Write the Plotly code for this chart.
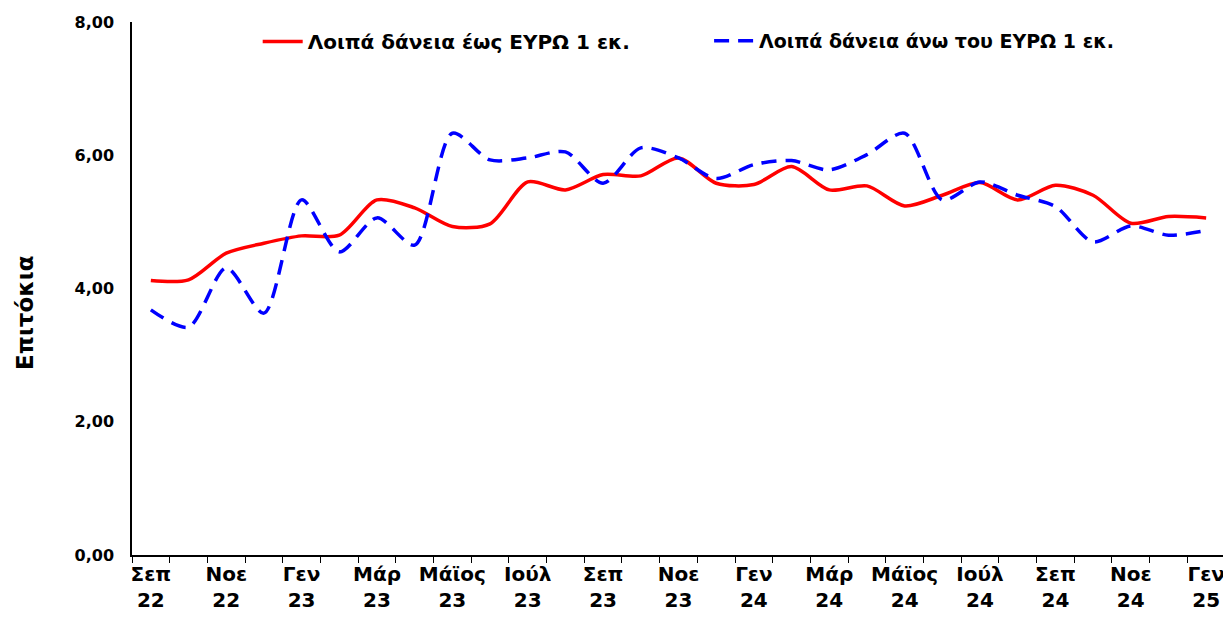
import plotly.graph_objects as go

months = ["Σεπ 22","Οκτ 22","Νοε 22","Δεκ 22","Γεν 23","Φεβ 23","Μάρ 23","Απρ 23","Μάϊος 23","Ιούν 23",
          "Ιούλ 23","Αύγ 23","Σεπ 23","Οκτ 23","Νοε 23","Δεκ 23","Γεν 24","Φεβ 24","Μάρ 24","Απρ 24",
          "Μάϊος 24","Ιούν 24","Ιούλ 24","Αύγ 24","Σεπ 24","Οκτ 24","Νοε 24","Δεκ 24","Γεν 25"]

upto_1m = [4.12, 4.13, 4.53, 4.68, 4.79, 4.80, 5.33, 5.21, 4.93, 4.97,
           5.60, 5.48, 5.71, 5.69, 5.96, 5.58, 5.56, 5.83, 5.48, 5.54,
           5.24, 5.40, 5.59, 5.33, 5.55, 5.40, 4.98, 5.08, 5.06]

over_1m = [3.68, 3.42, 4.31, 3.63, 5.33, 4.55, 5.06, 4.65, 6.33, 5.93,
           5.96, 6.05, 5.58, 6.11, 5.96, 5.65, 5.86, 5.92, 5.78, 6.01,
           6.33, 5.33, 5.60, 5.40, 5.23, 4.70, 4.94, 4.80, 4.87]

tick_labels = ["Σεπ<br>22","Νοε<br>22","Γεν<br>23","Μάρ<br>23","Μάϊος<br>23","Ιούλ<br>23","Σεπ<br>23",
               "Νοε<br>23","Γεν<br>24","Μάρ<br>24","Μάϊος<br>24","Ιούλ<br>24","Σεπ<br>24","Νοε<br>24","Γεν<br>25"]

y_ticks = [0, 2, 4, 6, 8]
y_tick_labels = ["0,00", "2,00", "4,00", "6,00", "8,00"]

name_red = "Λοιπά δάνεια έως ΕΥΡΩ 1 εκ."
name_blue = "Λοιπά δάνεια άνω του ΕΥΡΩ 1 εκ."
y_title = "Επιτόκια"

x = list(range(len(months)))

fig = go.Figure()
fig.add_trace(go.Scatter(x=x, y=upto_1m, name=name_red, mode="lines", legend="legend",
                         line=dict(color="#FF0000", width=3.5, shape="spline", smoothing=0.8),
                         text=months))
fig.add_trace(go.Scatter(x=x, y=over_1m, name=name_blue, mode="lines", legend="legend2",
                         line=dict(color="#0000FF", width=3.5, shape="spline", smoothing=0.8, dash="15px,9px"),
                         text=months))

ff = "DejaVu Sans, Verdana, sans-serif"
legend_font = dict(family=ff, size=20, color="black", weight="bold")

fig.update_layout(
    width=1223, height=613,
    margin=dict(l=124, r=6, t=14, b=66),
    paper_bgcolor="white", plot_bgcolor="white",
    font=dict(family=ff, size=16, color="black", weight="bold"),
    showlegend=True,
    legend=dict(orientation="h", x=0.115, xanchor="left", y=1.0, yanchor="top",
                font=legend_font, bgcolor="rgba(0,0,0,0)", itemwidth=40),
    legend2=dict(orientation="h", x=0.528, xanchor="left", y=1.0, yanchor="top",
                 font=dict(family=ff, size=19, color="black", weight="bold"),
                 bgcolor="rgba(0,0,0,0)", itemwidth=40),
    xaxis=dict(range=[-0.5, 28.5], tickmode="array", tickvals=x[::2], ticktext=tick_labels,
               showgrid=False, zeroline=False, showline=True, linecolor="black", linewidth=1.5,
               ticks="", tickfont=dict(family=ff, size=20, color="black", weight="bold"),
               minor=dict(tickmode="linear", tick0=-0.5, dtick=1, ticks="outside", ticklen=6,
                          tickcolor="black", tickwidth=1, showgrid=False),
               automargin=False, fixedrange=True),
    yaxis=dict(range=[0, 8], tickmode="array", tickvals=y_ticks, ticktext=y_tick_labels,
               showgrid=False, zeroline=False, showline=True, linecolor="black", linewidth=1.5,
               ticks="", ticklabelstandoff=13,
               tickfont=dict(family=ff, size=16, color="black", weight="bold"),
               automargin=False, fixedrange=True),
    annotations=[dict(text=y_title, textangle=-90, xref="paper", yref="paper",
                      x=-0.0979, y=0.454, xanchor="center", yanchor="middle", showarrow=False,
                      font=dict(family=ff, size=23, color="black", weight="bold"))],
)

fig.write_html("out.html")
